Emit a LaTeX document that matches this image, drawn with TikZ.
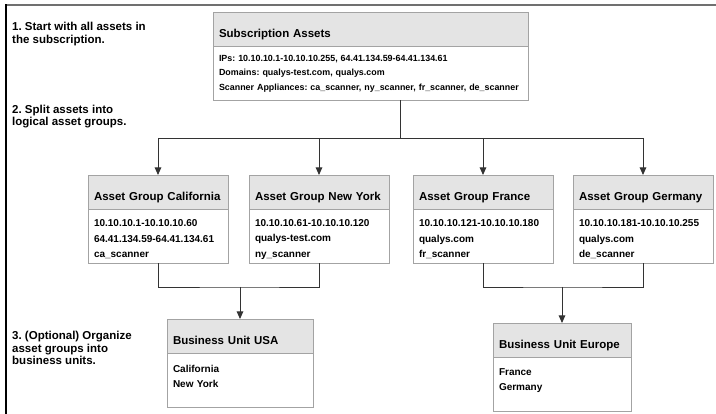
\documentclass[tikz,border=0pt]{standalone}
\usepackage{fontspec}
\setmainfont{Liberation Sans}
\usetikzlibrary{positioning,arrows.meta}
\definecolor{headgray}{HTML}{E4E4E4}
\definecolor{boxgray}{HTML}{A3A3A3}
\definecolor{framegray}{HTML}{707070}
\definecolor{linegray}{HTML}{333333}
\tikzset{
 head/.style={draw=boxgray,fill=headgray,line width=0.8pt,inner xsep=6pt,inner ysep=0pt,
   outer sep=0pt,minimum height=34.5pt,align=left,text height=17pt,text depth=0pt,
   font=\fontsize{11.5}{13}\selectfont\bfseries},
 body/.style={draw=boxgray,fill=white,line width=0.8pt,inner xsep=6pt,inner ysep=0pt,
   outer sep=0pt,minimum height=54pt,align=left,
   font=\fontsize{10}{15.5}\selectfont\bfseries},
 group body/.style={body,text height=13pt},
 sub body/.style={body,font=\fontsize{8.9}{14.5}\selectfont\bfseries},
 unit body/.style={body,text depth=24pt,font=\fontsize{10}{15}\selectfont\bfseries},
 step note/.style={anchor=north west,inner sep=0pt,align=left,
   font=\fontsize{11.5}{12.5}\selectfont\bfseries},
 conn/.style={draw=linegray,line width=0.9pt},
 arr/.style={-{Triangle[width=6.5pt,length=7.5pt]}},
}

\begin{document}
\frenchspacing
\begin{tikzpicture}[x=1pt,y=-1pt]
  \useasboundingbox (0,0) rectangle (716,414);
  % frame, top and left only
  \draw[framegray,line width=1.8pt] (5,5) -- (716,5);
  \draw[black,line width=1.8pt] (6,4.1) -- (6,414);

  % notes on the left
  \node[step note] (note-one) at (12,22) {1. Start with all assets in\\the subscription.};
  \node[step note] (note-two) at (12,104.5) {2. Split assets into\\logical asset groups.};
  \node[step note] (note-three) at (12,331) {3. (Optional) Organize\\asset groups into\\business units.};

  % subscription
  \node[head,anchor=north west,text width=303pt] (sub-head) at (213,12) {Subscription Assets};
  \node[sub body,below right=0pt of sub-head.south west,text width=303pt] (sub-body)
    {IPs: 10.10.10.1-10.10.10.255, 64.41.134.59-64.41.134.61\\
     Domains: qualys-test.com, qualys.com\\
     Scanner Appliances: ca\_scanner, ny\_scanner, fr\_scanner, de\_scanner};

  % asset groups
  \node[head,anchor=north west,text width=128pt] (cal-head) at (88,175) {Asset Group California};
  \node[group body,below right=0pt of cal-head.south west,text width=128pt] (cal-body)
    {10.10.10.1-10.10.10.60\\64.41.134.59-64.41.134.61\\ca\_scanner};
  \node[head,anchor=north west,text width=128pt] (ny-head) at (249,175) {Asset Group New York};
  \node[group body,below right=0pt of ny-head.south west,text width=128pt] (ny-body)
    {10.10.10.61-10.10.10.120\\qualys-test.com\\ny\_scanner};
  \node[head,anchor=north west,text width=128pt] (fr-head) at (413,175) {Asset Group France};
  \node[group body,below right=0pt of fr-head.south west,text width=128pt] (fr-body)
    {10.10.10.121-10.10.10.180\\qualys.com\\fr\_scanner};
  \node[head,anchor=north west,text width=128pt] (ger-head) at (573,175) {Asset Group Germany};
  \node[group body,below right=0pt of ger-head.south west,text width=128pt] (ger-body)
    {10.10.10.181-10.10.10.255\\qualys.com\\de\_scanner};

  % business units
  \node[head,anchor=north west,text width=134pt] (usa-head) at (167,319) {Business Unit USA};
  \node[unit body,below right=0pt of usa-head.south west,text width=134pt] (usa-body)
    {California\\New York};
  \node[head,anchor=north west,text width=126pt] (eu-head) at (493,323) {Business Unit Europe};
  \node[unit body,below right=0pt of eu-head.south west,text width=126pt] (eu-body)
    {France\\Germany};

  % connectors
  \coordinate (split) at (400,138);
  \coordinate (usa-join) at (240,287);
  \coordinate (eu-join) at (562,287);
  \draw[conn] (sub-body.south -| split) -- (split);
  \draw[conn] (cal-head.north |- split) -- (ger-head.north |- split);
  \foreach \g in {cal,ny,fr,ger}
    \draw[conn,arr] (\g-head.north |- split) -- (\g-head.north);
  \draw[conn] (cal-body.south) |- (usa-join) -| (ny-body.south);
  \draw[conn,arr] (usa-join) -- (usa-head.north);
  \draw[conn] (fr-body.south) |- (eu-join) -| (ger-body.south);
  \draw[conn,arr] (eu-join) -- (eu-head.north);
\end{tikzpicture}
\end{document}
